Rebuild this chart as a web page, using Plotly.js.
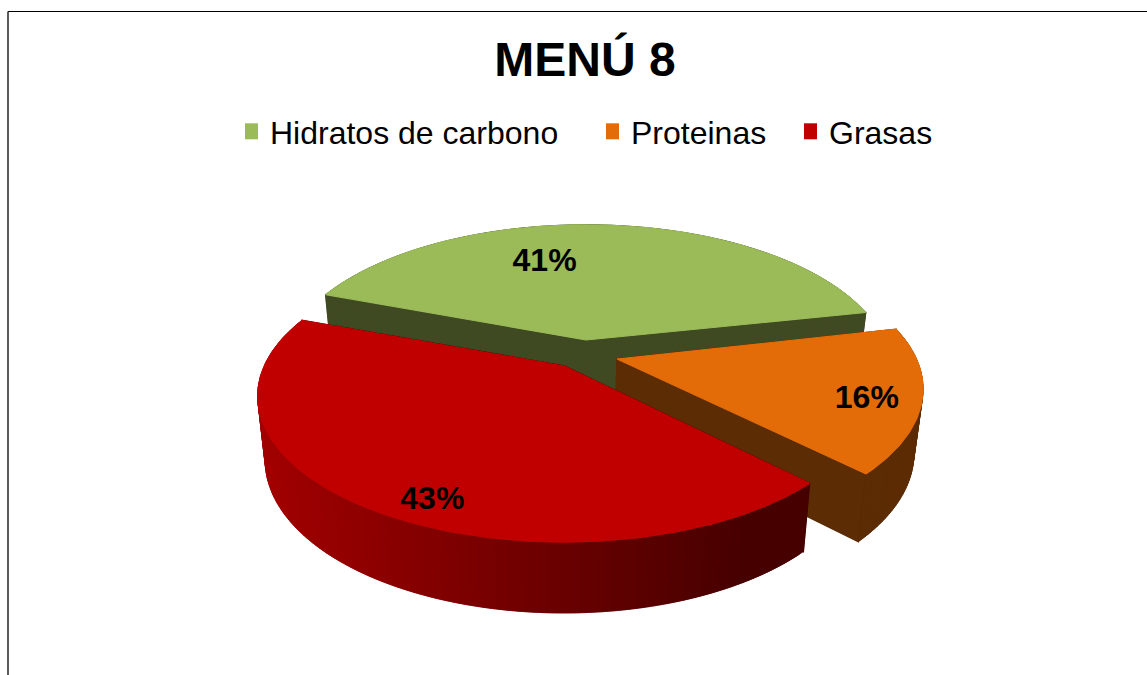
<!DOCTYPE html>
<html>
<head>
<meta charset="utf-8">
<script src="https://cdn.plot.ly/plotly-3.0.1.min.js"></script>
<style>html,body{margin:0;padding:0;background:#fff;overflow:hidden}#chart{width:1147px;height:675px}</style>
</head>
<body>
<div id="chart"></div>
<script>
// Data
const categories = ['Hidratos de carbono', 'Proteinas', 'Grasas'];
const values = [41, 16, 43];
const topColors = ['#9BBB59', '#E36C09', '#C00000'];
const wallColors = ['#404A22', '#5C2C04', null];
const chartTitle = 'MENÚ 8';

// 3-D pie styling (layout, not data)
const firstAngle = -69.5;
const angleNudge = [0, -1, 0];
const apexX = [586, 617, 564];
const apexY = [340, 359, 366];
const sliceScale = [1, 1.005, 1.006];
const labelRadius = [0.655, 0.836, 0.879];
const labelShift = [-18.7, 1.6, -7.8];
const labelNudgeX = [1.5, -2, 3];
const labelNudgeY = [1, 4, 2];
const legendX = [245, 606, 804];
const radiusX = 298, radiusY = 139, persp = 0.206;

function project(i, deg, r) {
  const t = deg * Math.PI / 180;
  const X = r * Math.sin(t), Y = r * Math.cos(t), w = 1 + persp * Y;
  return [apexX[i] + sliceScale[i] * radiusX * X / w, apexY[i] - sliceScale[i] * radiusY * Y / w];
}
function drop(p) {
  return [560 + (p[0] - 560) * 0.975, p[1] + 60 + (p[1] - 300) * 0.045];
}
function arc(i, a0, a1) {
  const pts = [], n = Math.ceil(Math.abs(a1 - a0));
  for (let k = 0; k <= n; k++) pts.push(project(i, a0 + (a1 - a0) * k / n, 1));
  return pts;
}
function poly(pts, color, lw) {
  return {
    type: 'scatter', mode: 'lines', fill: 'toself', fillcolor: color,
    x: pts.map(p => p[0]).concat(pts[0][0]), y: pts.map(p => p[1]).concat(pts[0][1]),
    line: {color: color, width: lw === undefined ? 0.6 : lw}, hoverinfo: 'skip', showlegend: false
  };
}
function redShade(x) {
  const f = Math.min(1, Math.max(0, (x - 260) / 490));
  return 'rgb(' + Math.round(162 - 92 * f) + ',0,0)';
}

const total = values.reduce((a, b) => a + b, 0);
const traces = [];
const labelX = [], labelY = [], labelText = [];
let angle = firstAngle;
values.forEach((v, i) => {
  const a0 = angle + angleNudge[i], a1 = angle + angleNudge[i] + v / total * 360;
  angle += v / total * 360;
  const apex = [apexX[i], apexY[i]];
  const rim = arc(i, a0, a1);
  const first = rim[0], last = rim[rim.length - 1];
  const wall = wallColors[i] || '#4A0000';
  traces.push(poly([apex, first, drop(first), drop(apex)], wall, 1.4));
  traces.push(poly([apex, last, drop(last), drop(apex)], wall, 1.4));
  for (let k = 0; k < rim.length - 1; k++) {
    // each band overlaps the next one by a step so no seams show between them
    const p = rim[k], mid = rim[k + 1], q = rim[Math.min(k + 2, rim.length - 1)];
    const color = wallColors[i] || redShade((p[0] + mid[0]) / 2);
    traces.push(poly([p, mid, q, drop(q), drop(mid), drop(p)], color));
  }
  traces.push(poly([apex].concat(rim), topColors[i], 1.2));
  const lp = project(i, (a0 + a1) / 2 + labelShift[i], labelRadius[i]);
  labelX.push(lp[0] + labelNudgeX[i]); labelY.push(lp[1] + labelNudgeY[i]);
  labelText.push(Math.round(v / total * 100) + '%');
});

traces.push({
  type: 'scatter', mode: 'text', x: labelX, y: labelY, text: labelText,
  textposition: 'middle center',
  textfont: {family: 'Liberation Sans', size: 32, color: '#000', weight: 700},
  hoverinfo: 'skip', showlegend: false
});

categories.forEach((c, i) => {
  traces.push({
    type: 'scatter', mode: 'markers', x: [null], y: [null], name: c,
    marker: {symbol: 'square', size: 17, color: topColors[i]},
    legend: i === 0 ? 'legend' : 'legend' + (i + 1), showlegend: true
  });
});

function legendCfg(x) {
  return {
    x: x / 1147, y: 1 - 104 / 675, xanchor: 'left', yanchor: 'top',
    orientation: 'h', bgcolor: 'rgba(0,0,0,0)', borderwidth: 0,
    font: {family: 'Liberation Sans', size: 32, color: '#000'},
    itemwidth: 30, indentation: -15, itemclick: false, itemdoubleclick: false
  };
}

const layout = {
  width: 1147, height: 675, margin: {l: 0, r: 0, t: 0, b: 0, pad: 0},
  paper_bgcolor: '#fff', plot_bgcolor: '#fff', hovermode: false,
  title: {text: chartTitle, x: 585 / 1147, xanchor: 'center', xref: 'paper',
          y: 1 - 59 / 675, yanchor: 'middle', yref: 'paper',
          font: {family: 'Liberation Sans', size: 48, color: '#000', weight: 700}},
  xaxis: {range: [0, 1147], visible: false, fixedrange: true},
  yaxis: {range: [675, 0], visible: false, fixedrange: true},
  legend: legendCfg(legendX[0]), legend2: legendCfg(legendX[1]), legend3: legendCfg(legendX[2]),
  shapes: [
    {type: 'line', xref: 'x', yref: 'y', x0: 8, y0: 11.5, x1: 1147, y1: 11.5, line: {color: '#000', width: 1.2}},
    {type: 'line', xref: 'x', yref: 'y', x0: 8, y0: 11.5, x1: 8, y1: 675, line: {color: '#333', width: 1.6}}
  ]
};
Plotly.newPlot('chart', traces, layout, {staticPlot: true, displayModeBar: false});
</script>
</body>
</html>
